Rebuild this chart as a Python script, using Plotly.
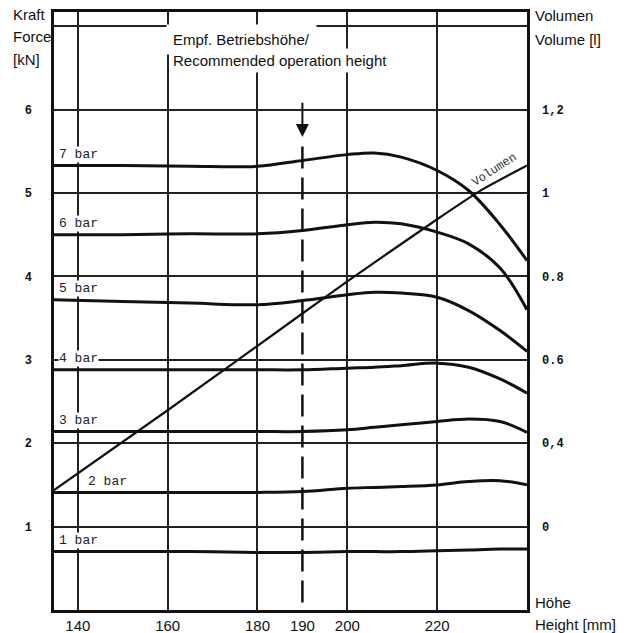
import plotly.graph_objects as go

# ---- data ----
height_mm = [134, 150, 165, 180, 190, 200, 206, 212, 220, 227, 234, 240]

force_7bar = [5.33, 5.33, 5.32, 5.32, 5.39, 5.46, 5.48, 5.43, 5.27, 5.03, 4.62, 4.19]
force_6bar = [4.50, 4.50, 4.51, 4.51, 4.55, 4.62, 4.65, 4.63, 4.53, 4.39, 4.10, 3.60]
force_5bar = [3.72, 3.70, 3.68, 3.66, 3.71, 3.78, 3.81, 3.80, 3.75, 3.59, 3.35, 3.10]
force_4bar = [2.88, 2.88, 2.88, 2.88, 2.88, 2.90, 2.91, 2.93, 2.96, 2.91, 2.77, 2.60]
force_3bar = [2.14, 2.14, 2.14, 2.14, 2.14, 2.16, 2.19, 2.22, 2.26, 2.29, 2.26, 2.13]
force_2bar = [1.41, 1.41, 1.41, 1.41, 1.42, 1.46, 1.47, 1.48, 1.50, 1.54, 1.55, 1.50]
force_1bar = [0.70, 0.70, 0.70, 0.69, 0.69, 0.70, 0.70, 0.70, 0.71, 0.72, 0.73, 0.73]

pressure_labels = ["7 bar", "6 bar", "5 bar", "4 bar", "3 bar", "2 bar", "1 bar"]

volume_height_mm = [134, 160, 190, 200, 220, 230, 240]
volume_l = [0.282, 0.479, 0.711, 0.788, 0.937, 1.008, 1.066]

x_tick_vals = [140, 160, 180, 190, 200, 220]
x_grid_vals = [140, 160, 180, 200, 220]
force_tick_vals = [1, 2, 3, 4, 5, 6, 7]
force_tick_text = ["1", "2", "3", "4", "5", "6", ""]
volume_tick_vals = [0.2, 0.4, 0.6, 0.8, 1.0, 1.2]
volume_tick_text = ["0", "0,4", "0.6", "0.8", "1", "1,2"]

recommended_height = 190

# ---- figure ----
INK = "#111111"
GRID = "#222222"
MONO = "Liberation Mono, DejaVu Sans Mono, monospace"
SANS = "Liberation Sans, Arial, sans-serif"

W, H = 624, 633
ML, MR, MT, MB = 54, 97, 12, 23
PW, PH = W - ML - MR, H - MT - MB

fig = go.Figure()

series = [force_7bar, force_6bar, force_5bar, force_4bar, force_3bar, force_2bar, force_1bar]
for name, vals in zip(pressure_labels, series):
    fig.add_trace(go.Scatter(
        x=height_mm, y=vals, mode="lines", name=name,
        line=dict(color=INK, width=3, shape="spline", smoothing=1.0),
        showlegend=False, hoverinfo="skip"))

fig.add_trace(go.Scatter(
    x=volume_height_mm, y=volume_l, mode="lines", name="Volumen", yaxis="y2",
    line=dict(color=INK, width=2.2, shape="spline", smoothing=0.6),
    showlegend=False, hoverinfo="skip"))

# pressure labels
label_x = [135.5, 135.5, 135.5, 135.5, 135.5, 142.0, 135.5]
for name, vals, lx in zip(pressure_labels, series, label_x):
    fig.add_annotation(x=lx, y=vals[0], text=name, showarrow=False,
                       xanchor="left", yanchor="middle", yshift=11,
                       font=dict(family=MONO, size=13, color="#222"),
                       bgcolor="white", borderpad=0)

# Volumen label along the line
fig.add_annotation(x=232.7, y=1.056, yref="y2", text="Volumen", showarrow=False,
                   textangle=-33, font=dict(family=MONO, size=12, color="#333"))

# recommended height: arrow + dashed line
fig.add_annotation(x=recommended_height, y=5.67, ax=recommended_height, ay=6.1,
                   xref="x", yref="y", axref="x", ayref="y", text="",
                   showarrow=True, arrowhead=2, arrowsize=1.3, arrowwidth=2,
                   arrowcolor=INK)
fig.add_shape(type="line", x0=recommended_height, x1=recommended_height,
              y0=0.09, y1=5.57, xref="x", yref="y",
              line=dict(color=INK, width=2.5, dash="22px,9px"))


def px_x(xpx):
    return (xpx - ML) / PW


def px_y(ypx):
    return (H - MB - ypx) / PH


# top caption
fig.add_annotation(x=px_x(166), xref="paper", y=px_y(40), yref="paper",
                   text="Empf. Betriebshöhe/", showarrow=False, xanchor="left",
                   yanchor="middle", font=dict(family=SANS, size=15, color=INK),
                   bgcolor="white", borderpad=6)
fig.add_annotation(x=px_x(169), xref="paper", y=px_y(61), yref="paper",
                   text="Recommended operation height", showarrow=False, xanchor="left",
                   yanchor="middle", font=dict(family=SANS, size=15, color=INK),
                   bgcolor="white", borderpad=3)


def side_text(txt, xpx, ypx):
    fig.add_annotation(x=px_x(xpx), xref="paper", y=px_y(ypx),
                       yref="paper", text=txt, showarrow=False, xanchor="left",
                       yanchor="middle", font=dict(family=SANS, size=15, color=INK))


side_text("Kraft", 11, 15)
side_text("Force", 11, 37)
side_text("[kN]", 11, 60)
side_text("Volumen", 533, 16)
side_text("Volume [l]", 533, 40)
side_text("Höhe", 533, 602)
side_text("Height [mm]", 533, 624)

fig.update_layout(
    width=W, height=H,
    margin=dict(l=ML, r=MR, t=MT, b=MB, autoexpand=False),
    paper_bgcolor="white", plot_bgcolor="white",
    xaxis=dict(range=[134.7, 240], tickvals=x_tick_vals,
               ticktext=[str(v) for v in x_tick_vals],
               showgrid=False, zeroline=False, ticks="", automargin=False,
               ticklabelstandoff=0,
               tickfont=dict(family=SANS, size=15, color=INK),
               minor=dict(tickvals=x_grid_vals, showgrid=True, gridcolor=GRID,
                          gridwidth=1.6, ticks=""),
               showline=True, mirror=True, linecolor=INK, linewidth=2.5),
    yaxis=dict(range=[0, 7.17], tickvals=force_tick_vals, ticktext=force_tick_text,
               showgrid=True, gridcolor=GRID, gridwidth=1.6, zeroline=False,
               ticks="", ticklabelstandoff=17, automargin=False,
               tickfont=dict(family=MONO, size=12, color=INK, weight="bold"),
               showline=True, mirror=True, linecolor=INK, linewidth=2.5),
    yaxis2=dict(range=[0, 1.434], overlaying="y", side="right",
                tickvals=volume_tick_vals, ticktext=volume_tick_text,
                showgrid=False, zeroline=False, ticks="", ticklabelstandoff=14,
                automargin=False,
                tickfont=dict(family=MONO, size=12, color=INK, weight="bold")),
)

fig.write_html("out.html",
               config={"displayModeBar": False},
               post_script="document.body.style.margin='0px';"
                           "document.body.style.overflow='hidden';")
